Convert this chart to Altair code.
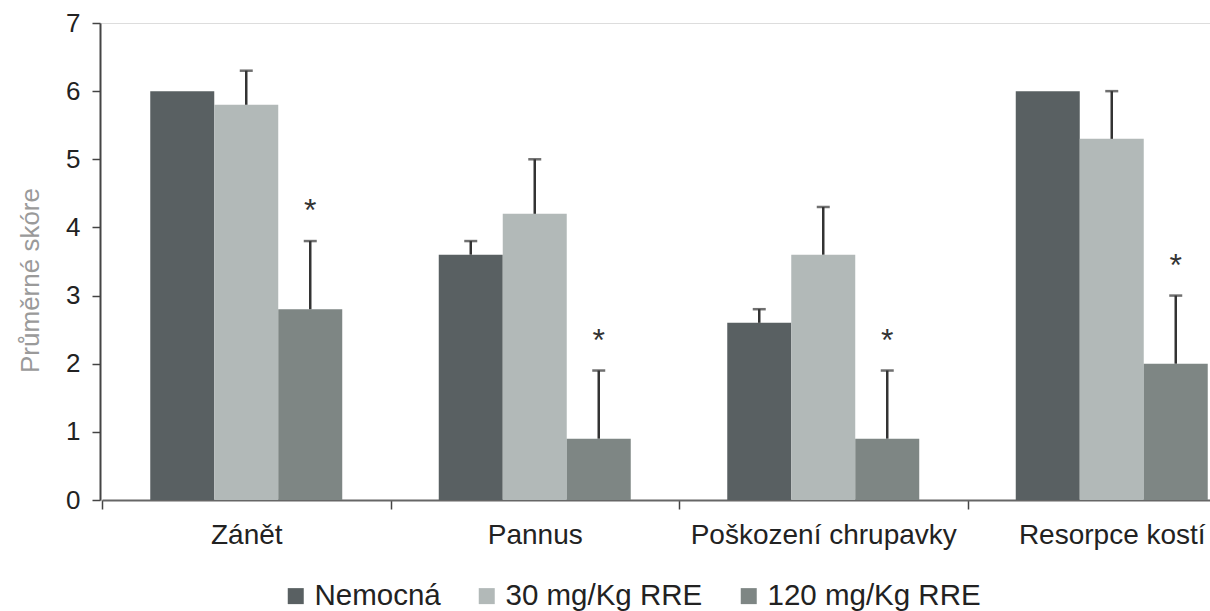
import altair as alt
import pandas as pd

categories = ["Zánět", "Pannus", "Poškození chrupavky", "Resorpce kostí"]
series = ["Nemocná", "30 mg/Kg RRE", "120 mg/Kg RRE"]
colors = ["#596062", "#b2b9b8", "#7e8684"]

# mean scores per category, per series
nemocna = [6.0, 3.6, 2.6, 6.0]
rre30 = [5.8, 4.2, 3.6, 5.3]
rre120 = [2.8, 0.9, 0.9, 2.0]
# upper end of error bars
nemocna_up = [6.0, 3.8, 2.8, 6.0]
rre30_up = [6.3, 5.0, 4.3, 6.0]
rre120_up = [3.8, 1.9, 1.9, 3.0]
# significance markers
sig120 = ["*", "*", "*", "*"]

rows = []
for i, c in enumerate(categories):
    rows.append(dict(cat=c, ser=series[0], value=nemocna[i], upper=nemocna_up[i], sig=""))
    rows.append(dict(cat=c, ser=series[1], value=rre30[i], upper=rre30_up[i], sig=""))
    rows.append(dict(cat=c, ser=series[2], value=rre120[i], upper=rre120_up[i], sig=sig120[i]))
df = pd.DataFrame(rows)

FONT = "Liberation Sans"

x_enc = alt.X(
    "cat:N",
    sort=categories,
    scale=alt.Scale(range=[2, 1156], paddingInner=0, paddingOuter=0),
    axis=alt.Axis(
        title=None,
        labelAngle=0,
        labelFontSize=28,
        labelFont=FONT,
        labelColor="#222222",
        labelPadding=12,
        labelLimit=0,
        tickBand="extent",
        tickSize=9,
        tickColor="#444444",
        tickWidth=1.5,
        domainColor="#666666",
        domainWidth=2,
        grid=False,
    ),
)
xo_enc = alt.XOffset(
    "ser:N",
    sort=series,
    scale=alt.Scale(paddingInner=0, paddingOuter=0.754),
)
y_scale = alt.Scale(domain=[0, 7], nice=False)

bars = alt.Chart(df).mark_bar(clip=True).encode(
    x=x_enc,
    xOffset=xo_enc,
    y=alt.Y(
        "value:Q",
        scale=y_scale,
        axis=alt.Axis(
            title="Průměrné skóre",
            titleFont=FONT,
            titleFontSize=26,
            titleFontWeight="normal",
            titleColor="#9a9a9a",
            titlePadding=22,
            titleY=257,
            values=[0, 1, 2, 3, 4, 5, 6, 7],
            format="d",
            labelFontSize=26,
            labelFont=FONT,
            labelColor="#222222",
            labelPadding=12,
            tickSize=8,
            tickColor="#444444",
            tickWidth=1.5,
            domainColor="#444444",
            domainWidth=2,
            grid=False,
        ),
    ),
    color=alt.Color(
        "ser:N",
        sort=series,
        scale=alt.Scale(domain=series, range=colors),
        legend=alt.Legend(
            title=None,
            orient="none",
            direction="horizontal",
            legendX=181,
            legendY=558,
            symbolType="square",
            symbolSize=256,
            symbolStrokeWidth=0,
            symbolOpacity=1,
            labelFont=FONT,
            labelFontSize=29.5,
            labelColor="#222222",
            labelOffset=4,
            labelLimit=0,
            columnPadding=31,
            padding=0,
        ),
    ),
)

err = alt.Chart(df).transform_filter("datum.upper > datum.value")

err_line = err.mark_rule(color="#333333", strokeWidth=2.5, clip=True).encode(
    x=x_enc, xOffset=xo_enc, y=alt.Y("value:Q", scale=y_scale), y2="upper:Q"
)
err_cap = err.mark_tick(color="#333333", thickness=2.5, size=13, orient="horizontal", clip=True).encode(
    x=x_enc, xOffset=xo_enc, y=alt.Y("upper:Q", scale=y_scale)
)
stars = alt.Chart(df).transform_filter("datum.sig != ''").mark_text(
    font=FONT, fontSize=32, color="#333333", dy=-30, baseline="middle", clip=True
).encode(
    x=x_enc, xOffset=xo_enc, y=alt.Y("upper:Q", scale=y_scale), text="sig:N"
)

chart = (
    alt.layer(bars, err_line, err_cap, stars)
    .properties(
        width=1110,
        height=477,
        autosize=alt.AutoSizeParams(type="none"),
        padding={"left": 100, "top": 23, "right": 0, "bottom": 111},
    )
    .configure_view(stroke=None)
    .configure(background="white")
)

chart.save("out.html", embed_options={"renderer": "svg", "actions": False})
